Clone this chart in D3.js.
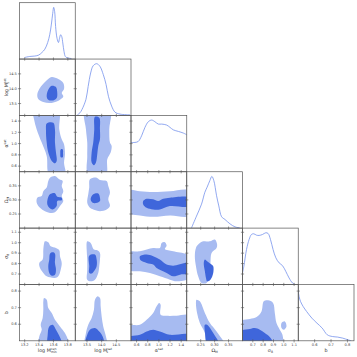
<!DOCTYPE html>
<html>
<head>
<meta charset="utf-8">
<script src="https://cdn.jsdelivr.net/npm/d3@7"></script>
<style>
  body { margin: 0; background: #fff; }
  svg { display: block; font-family: "DejaVu Sans", sans-serif; }
</style>
</head>
<body>
<div id="chart"></div>
<script>
// parameter domains and ticks
var domMmin = [13.128, 13.903], domM1 = [13.1, 15.0], domAlpha = [0.5, 1.5]
var domOm = [0.2, 0.4], domS8 = [0.6, 1.14], domB = [0.5, 0.84]
var ticksMmin = [13.2, 13.4, 13.6, 13.8], ticksM1 = [13.5, 14.0, 14.5]
var ticksAlpha = [0.6, 0.8, 1.0, 1.2, 1.4], ticksOm = [0.25, 0.30, 0.35]
var ticksS8 = [0.7, 0.8, 0.9, 1.0, 1.1], ticksB = [0.6, 0.7, 0.8]

// 1D marginals [value, density]
var kdeMmin = [[13.20,0.03],[13.27,0.05],[13.34,0.058],[13.395,0.077],[13.44,0.127],[13.48,0.19],[13.52,0.32],[13.548,0.47],[13.57,0.66],[13.59,0.885],[13.603,1.0],[13.617,0.915],[13.63,0.627],[13.65,0.40],[13.67,0.32],[13.684,0.40],[13.70,0.47],[13.715,0.435],[13.73,0.31],[13.747,0.146],[13.765,0.05],[13.79,0.025],[13.85,0.01]]
var kdeM1 = [[13.17,0.01],[13.26,0.05],[13.33,0.115],[13.465,0.31],[13.54,0.56],[13.625,0.82],[13.71,0.96],[13.83,1.0],[13.94,0.95],[14.055,0.79],[14.15,0.60],[14.23,0.37],[14.34,0.18],[14.455,0.063],[14.625,0.025],[14.97,0.01]]
var kdeAlpha = [[0.5,0.567],[0.57,0.567],[0.63,0.586],[0.69,0.695],[0.75,0.858],[0.81,0.967],[0.87,1.0],[0.93,0.967],[0.99,0.922],[1.05,0.922],[1.14,0.903],[1.20,0.858],[1.26,0.81],[1.35,0.78],[1.44,0.748],[1.5,0.715]]
var kdeOm = [[0.217,0.004],[0.235,0.232],[0.253,0.463],[0.265,0.693],[0.273,0.791],[0.283,0.921],[0.29,1.0],[0.297,0.921],[0.307,0.626],[0.315,0.429],[0.325,0.22],[0.337,0.167],[0.355,0.083],[0.373,0.024],[0.39,0.004]]
var kdeS8 = [[0.6,0.223],[0.613,0.351],[0.639,0.676],[0.664,0.87],[0.687,0.967],[0.709,0.98],[0.736,0.953],[0.761,0.948],[0.794,0.967],[0.826,1.0],[0.848,0.986],[0.871,0.87],[0.896,0.676],[0.923,0.515],[0.955,0.417],[0.987,0.365],[1.019,0.254],[1.051,0.126],[1.084,0.029],[1.107,0.002]]
var kdeB = [[0.5,0.954],[0.505,0.857],[0.514,0.76],[0.53,0.663],[0.551,0.567],[0.583,0.439],[0.614,0.342],[0.646,0.246],[0.677,0.116],[0.708,0.083],[0.74,0.072],[0.771,0.052],[0.803,0.019],[0.823,0.0]]

// 2D credible regions (outer = 95%, inner = 68%), [x, y]
var m1MminOut = [[13.576,14.394],[13.667,14.326],[13.737,14.191],[13.747,13.989],[13.715,13.855],[13.737,13.74],[13.691,13.629],[13.645,13.572],[13.552,13.518],[13.459,13.551],[13.389,13.652],[13.375,13.797],[13.403,13.989],[13.459,14.168],[13.528,14.326]]
var m1MminIn = [[13.576,14.1],[13.635,14.057],[13.653,13.855],[13.645,13.686],[13.598,13.605],[13.528,13.629],[13.506,13.74],[13.528,13.966]]
var alMminOut = [[13.32,1.606],[13.667,1.606],[13.681,1.252],[13.715,1.075],[13.747,0.987],[13.76,0.81],[13.747,0.663],[13.76,0.456],[13.542,0.456],[13.506,0.78],[13.437,1.017],[13.367,1.252],[13.33,1.43]]
var alMminIn = [[13.506,1.358],[13.598,1.37],[13.621,1.252],[13.621,1.017],[13.635,0.84],[13.645,0.692],[13.621,0.65],[13.576,0.692],[13.528,0.84],[13.506,1.017],[13.496,1.252]]
var alMminIn2 = [[13.701,0.897],[13.729,0.897],[13.733,0.827],[13.729,0.756],[13.701,0.756],[13.695,0.827]]
var omMminOut = [[13.552,0.379],[13.621,0.385],[13.681,0.373],[13.728,0.367],[13.715,0.349],[13.737,0.331],[13.715,0.314],[13.737,0.296],[13.691,0.278],[13.621,0.256],[13.552,0.254],[13.482,0.26],[13.413,0.272],[13.367,0.29],[13.375,0.308],[13.437,0.314],[13.459,0.331],[13.506,0.344],[13.528,0.367]]
var omMminIn = [[13.552,0.32],[13.621,0.324],[13.653,0.311],[13.715,0.308],[13.715,0.299],[13.653,0.296],[13.645,0.278],[13.59,0.266],[13.542,0.272],[13.515,0.284],[13.52,0.304]]
var s8MminOut = [[13.482,1.013],[13.528,1.004],[13.562,0.965],[13.635,0.95],[13.681,0.927],[13.691,0.87],[13.715,0.806],[13.701,0.742],[13.667,0.678],[13.621,0.662],[13.552,0.668],[13.506,0.678],[13.459,0.71],[13.413,0.758],[13.403,0.806],[13.45,0.838],[13.459,0.934],[13.469,0.991]]
var s8MminIn = [[13.552,0.895],[13.59,0.908],[13.621,0.895],[13.621,0.806],[13.635,0.742],[13.621,0.694],[13.576,0.684],[13.542,0.71],[13.528,0.774],[13.542,0.838]]
var bMminOut = [[13.469,0.758],[13.506,0.748],[13.528,0.698],[13.576,0.668],[13.621,0.627],[13.691,0.587],[13.76,0.547],[13.806,0.5],[13.82,0.46],[13.4,0.46],[13.403,0.526],[13.437,0.567],[13.423,0.597],[13.45,0.637],[13.459,0.688],[13.459,0.738]]
var bMminIn = [[13.542,0.587],[13.59,0.597],[13.635,0.567],[13.681,0.531],[13.719,0.49],[13.72,0.46],[13.528,0.46],[13.52,0.537]]
var alM1Out = [[13.431,1.606],[14.283,1.606],[14.259,1.252],[14.283,1.017],[14.34,0.957],[14.306,0.84],[14.191,0.721],[14.146,0.456],[13.543,0.456],[13.509,0.78],[13.509,1.017],[13.465,1.252]]
var alM1In = [[13.771,1.477],[13.918,1.459],[13.942,1.252],[13.942,1.075],[13.884,0.957],[13.85,0.81],[13.805,0.663],[13.737,0.616],[13.659,0.663],[13.659,0.84],[13.713,1.017],[13.748,1.252]]
var omM1Out = [[13.601,0.373],[13.829,0.379],[13.942,0.371],[14.17,0.367],[14.225,0.349],[14.283,0.326],[14.225,0.302],[14.283,0.278],[14.17,0.266],[13.942,0.26],[13.713,0.266],[13.601,0.272],[13.509,0.29],[13.543,0.32],[13.577,0.344]]
var omM1In = [[13.713,0.32],[13.884,0.323],[13.942,0.308],[13.942,0.296],[13.85,0.29],[13.693,0.29],[13.625,0.302]]
var s8M1Out = [[13.509,1.013],[13.625,0.998],[13.737,0.934],[13.85,0.927],[13.942,0.902],[13.942,0.838],[13.918,0.774],[13.884,0.71],[13.771,0.646],[13.625,0.63],[13.509,0.646],[13.509,0.742],[13.509,0.838],[13.489,0.934]]
var s8M1In = [[13.577,0.876],[13.771,0.886],[13.829,0.838],[13.829,0.774],[13.737,0.726],[13.659,0.704],[13.577,0.71],[13.577,0.774]]
var bM1Out = [[13.85,0.768],[13.942,0.758],[13.966,0.708],[14.0,0.647],[14.054,0.587],[14.146,0.526],[14.19,0.46],[13.44,0.46],[13.465,0.547],[13.543,0.597],[13.659,0.637],[13.737,0.688],[13.771,0.748]]
var bM1In = [[13.601,0.567],[13.771,0.577],[13.918,0.556],[14.034,0.526],[14.09,0.46],[13.44,0.46],[13.509,0.536]]
var omAlOut = [[0.45,0.333],[0.66,0.331],[0.9,0.328],[1.2,0.331],[1.55,0.332],[1.55,0.245],[1.2,0.245],[0.9,0.24],[0.66,0.245],[0.45,0.256]]
var omAlIn = [[0.719,0.296],[0.78,0.304],[0.898,0.302],[0.988,0.296],[1.078,0.304],[1.198,0.308],[1.55,0.308],[1.55,0.278],[1.198,0.278],[1.018,0.266],[0.898,0.266],[0.78,0.272],[0.719,0.284]]
var s8AlOut = [[0.45,0.908],[0.66,0.918],[0.898,0.95],[1.018,0.95],[1.049,0.998],[1.108,1.004],[1.139,0.972],[1.108,0.94],[1.257,0.918],[1.55,0.87],[1.55,0.662],[1.318,0.63],[1.198,0.646],[1.018,0.678],[0.839,0.71],[0.66,0.726],[0.45,0.742]]
var s8AlIn = [[0.66,0.87],[0.78,0.886],[0.898,0.87],[1.018,0.838],[1.139,0.79],[1.257,0.78],[1.55,0.806],[1.55,0.71],[1.378,0.694],[1.257,0.678],[1.139,0.71],[0.959,0.758],[0.898,0.79],[0.78,0.806],[0.672,0.831]]
var bAlOut = [[0.45,0.587],[0.66,0.597],[0.78,0.627],[0.898,0.668],[0.959,0.708],[1.006,0.728],[1.031,0.718],[1.031,0.657],[1.139,0.651],[1.318,0.651],[1.55,0.651],[1.55,0.46],[0.45,0.46]]
var bAlIn = [[0.45,0.52],[0.66,0.536],[0.78,0.556],[0.898,0.567],[1.018,0.556],[1.198,0.536],[1.55,0.536],[1.55,0.46],[0.45,0.46]]
var s8OmOut = [[0.241,0.982],[0.259,1.013],[0.283,1.013],[0.301,1.03],[0.309,0.982],[0.307,0.95],[0.289,0.902],[0.285,0.806],[0.28,0.678],[0.271,0.614],[0.253,0.614],[0.241,0.678],[0.233,0.774],[0.229,0.87],[0.233,0.95]]
var s8OmIn = [[0.265,0.838],[0.273,0.822],[0.289,0.79],[0.295,0.774],[0.295,0.71],[0.285,0.646],[0.273,0.63],[0.269,0.662],[0.265,0.726],[0.261,0.806]]
var bOmOut = [[0.235,0.748],[0.247,0.738],[0.265,0.668],[0.283,0.607],[0.307,0.556],[0.34,0.46],[0.275,0.46],[0.265,0.547],[0.247,0.607],[0.237,0.668],[0.233,0.728]]
var bOmIn = [[0.265,0.597],[0.273,0.597],[0.295,0.547],[0.32,0.46],[0.278,0.46],[0.265,0.556]]
var bS8Out = [[0.58,0.617],[0.671,0.631],[0.736,0.643],[0.784,0.677],[0.806,0.738],[0.848,0.744],[0.896,0.728],[0.913,0.668],[0.929,0.607],[0.961,0.567],[0.987,0.536],[0.98,0.46],[0.58,0.46]]
var bS8Out2 = [[0.978,0.607],[1.01,0.617],[1.026,0.587],[1.0,0.567],[0.978,0.577]]
var bS8In = [[0.58,0.556],[0.671,0.571],[0.719,0.577],[0.768,0.567],[0.816,0.547],[0.864,0.523],[0.91,0.46],[0.58,0.46]]

var params = [
  { dom: domMmin, ticks: ticksMmin, dec: 1, kde: kdeMmin },
  { dom: domM1, ticks: ticksM1, dec: 1, kde: kdeM1 },
  { dom: domAlpha, ticks: ticksAlpha, dec: 1, kde: kdeAlpha },
  { dom: domOm, ticks: ticksOm, dec: 2, kde: kdeOm },
  { dom: domS8, ticks: ticksS8, dec: 1, kde: kdeS8 },
  { dom: domB, ticks: ticksB, dec: 1, kde: kdeB }
]

var contours = [
  { row: 1, col: 0, outer: [m1MminOut], inner: [m1MminIn] },
  { row: 2, col: 0, outer: [alMminOut], inner: [alMminIn, alMminIn2] },
  { row: 3, col: 0, outer: [omMminOut], inner: [omMminIn] },
  { row: 4, col: 0, outer: [s8MminOut], inner: [s8MminIn] },
  { row: 5, col: 0, outer: [bMminOut], inner: [bMminIn] },
  { row: 2, col: 1, outer: [alM1Out], inner: [alM1In] },
  { row: 3, col: 1, outer: [omM1Out], inner: [omM1In] },
  { row: 4, col: 1, outer: [s8M1Out], inner: [s8M1In] },
  { row: 5, col: 1, outer: [bM1Out], inner: [bM1In] },
  { row: 3, col: 2, outer: [omAlOut], inner: [omAlIn] },
  { row: 4, col: 2, outer: [s8AlOut], inner: [s8AlIn] },
  { row: 5, col: 2, outer: [bAlOut], inner: [bAlIn] },
  { row: 4, col: 3, outer: [s8OmOut], inner: [s8OmIn] },
  { row: 5, col: 3, outer: [bOmOut], inner: [bOmIn] },
  { row: 5, col: 4, outer: [bS8Out, bS8Out2], inner: [bS8In] }
]

var W = 357, H = 357
var padL = 19.5, padT = 2.7, cw = 55.75, rh = 56.35
var lightCol = "#a7bbf1", darkCol = "#3f66db", lineCol = "#7592ec"

var svg = d3.select("#chart").append("svg").attr("width", W).attr("height", H)

var xs = params.map(function (p) { return d3.scaleLinear().domain(p.dom).range([0, cw]) })
var ys = params.map(function (p) { return d3.scaleLinear().domain(p.dom).range([rh, 0]) })
var dens = d3.scaleLinear().domain([0, 1.09]).range([rh, 0])

function panel(row, col) {
  var g = svg.append("g").attr("transform", "translate(" + (padL + col * cw) + "," + (padT + row * rh) + ")")
  var id = "clip-" + row + "-" + col
  g.append("clipPath").attr("id", id).append("rect").attr("width", cw).attr("height", rh)
  var inner = g.append("g").attr("clip-path", "url(#" + id + ")")
  return { g: g, inner: inner }
}

// 2D panels
contours.forEach(function (c) {
  var p = panel(c.row, c.col)
  var line = d3.line()
    .x(function (d) { return xs[c.col](d[0]) })
    .y(function (d) { return ys[c.row](d[1]) })
    .curve(d3.curveCatmullRomClosed.alpha(0.5))
  c.outer.forEach(function (poly) {
    p.inner.append("path").attr("d", line(poly)).attr("fill", lightCol)
  })
  c.inner.forEach(function (poly) {
    p.inner.append("path").attr("d", line(poly)).attr("fill", darkCol)
  })
})

// diagonal panels
params.forEach(function (prm, i) {
  var p = panel(i, i)
  var line = d3.line()
    .x(function (d) { return xs[i](d[0]) })
    .y(function (d) { return dens(d[1]) })
    .curve(d3.curveCatmullRom.alpha(0.5))
  p.inner.append("path").attr("d", line(prm.kde))
    .attr("fill", "none").attr("stroke", lineCol).attr("stroke-width", 0.8)
})

// frames and ticks
for (var r = 0; r < 6; r++) {
  for (var c = 0; c <= r; c++) {
    var x0 = padL + c * cw, y0 = padT + r * rh
    svg.append("rect").attr("x", x0).attr("y", y0).attr("width", cw).attr("height", rh)
      .attr("fill", "none").attr("stroke", "#555").attr("stroke-width", 0.7)
    params[c].ticks.forEach(function (t) {
      var x = x0 + xs[c](t)
      svg.append("line").attr("x1", x).attr("x2", x).attr("y1", y0 + rh - 1.6).attr("y2", y0 + rh + 1.6)
        .attr("stroke", "#555").attr("stroke-width", 0.6)
    })
    if (r > 0) {
      params[r].ticks.forEach(function (t) {
        var y = y0 + ys[r](t)
        svg.append("line").attr("x1", x0 - 1.6).attr("x2", x0 + 1.6).attr("y1", y).attr("y2", y)
          .attr("stroke", "#555").attr("stroke-width", 0.6)
      })
    }
  }
}

// tick labels
var fmt = function (p) { return d3.format("." + p.dec + "f") }
params.forEach(function (prm, i) {
  prm.ticks.forEach(function (t) {
    svg.append("text").attr("x", padL + i * cw + xs[i](t)).attr("y", padT + 6 * rh + 5.2)
      .attr("text-anchor", "middle").attr("font-size", 3.6).attr("fill", "#444").text(fmt(prm)(t))
  })
  if (i > 0) {
    prm.ticks.forEach(function (t) {
      svg.append("text").attr("x", padL - 2.6).attr("y", padT + i * rh + ys[i](t) + 1.2)
        .attr("text-anchor", "end").attr("font-size", 3.6).attr("fill", "#444").text(fmt(prm)(t))
    })
  }
})

// axis labels
function label(sel, base, sup, sub) {
  sel.append("tspan").text(base)
  if (sup) sel.append("tspan").attr("font-size", 3.2).attr("dy", -2).text(sup)
  if (sub) sel.append("tspan").attr("font-size", 3.2).attr("dx", sup ? -sup.length * 1.9 : 0).attr("dy", sup ? 3.4 : 1.4).text(sub)
}
var labels = [["log M", "cen", "min"], ["log M", "sat", "1"], ["\u03b1", "sat", ""], ["\u03a9", "", "M"], ["\u03c3", "", "8"], ["b", "", ""]]
labels.forEach(function (lb, i) {
  var t = svg.append("text").attr("x", padL + i * cw + cw / 2).attr("y", 351.5)
    .attr("text-anchor", "middle").attr("font-size", 4.8).attr("fill", "#333")
  label(t, lb[0], lb[1], lb[2])
  if (i > 0) {
    var ty = svg.append("text").attr("transform", "translate(7.5," + (padT + i * rh + rh / 2) + ") rotate(-90)")
      .attr("text-anchor", "middle").attr("font-size", 4.8).attr("fill", "#333")
    label(ty, lb[0], lb[1], lb[2])
  }
})
</script>
</body>
</html>
